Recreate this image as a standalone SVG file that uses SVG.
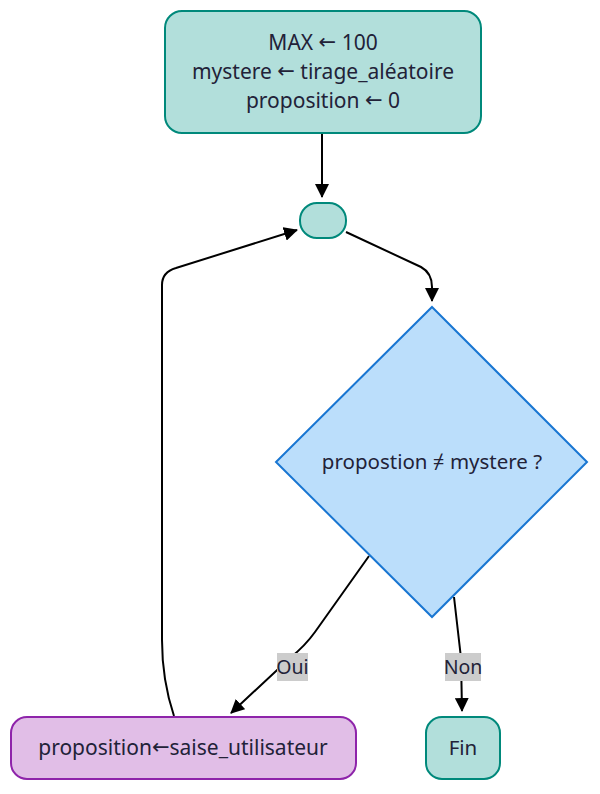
<svg xmlns="http://www.w3.org/2000/svg" width="600" height="794" viewBox="0 0 600 794">
<defs>
<marker id="arr" viewBox="0 0 14 14" refX="13" refY="7" markerWidth="14" markerHeight="14" markerUnits="userSpaceOnUse" orient="auto">
<path d="M0,0 L14,7 L0,14 Z" fill="#000"/>
</marker>
</defs>
<style>
.t{font-family:"Noto Sans","Open Sans",sans-serif;font-size:20.5px;fill:#222238;text-anchor:middle;dominant-baseline:central}
.w{font-size:21px}
.l{font-size:19.5px}
.a{font-family:"DejaVu Sans",sans-serif}
.teal{fill:#b2dfdb;stroke:#00897b;stroke-width:2}
.purple{fill:#e1bee7;stroke:#8e24aa;stroke-width:2}
.blue{fill:#bbdefb;stroke:#1976d2;stroke-width:2}
.e{fill:none;stroke:#000;stroke-width:2;marker-end:url(#arr)}
.lb{fill:#cccccc}
</style>
<rect width="600" height="794" fill="#fff"/>
<g id="connectors">
<path class="e" d="M322,133 L322,197"/>
<path class="e" d="M346,232 L421,267 Q432,273 432,287 L432,301"/>
<path class="e" d="M369,556 L315,632 Q305,646 290,658 L231,713"/>
<path class="e" d="M454,597 L461,658 L462,711"/>
<path class="e" d="M174,716 Q162,680 162,640 L162,285 Q162,272 176,268 L297,230"/>
<rect class="lb" x="277" y="653" width="31" height="28"/>
<text class="t l" x="292.5" y="666">Oui</text>
<rect class="lb" x="445" y="653" width="36" height="28"/>
<text class="t l" x="463" y="666">Non</text>
</g>
<g id="init">
<rect class="teal" x="165" y="11" width="316" height="122" rx="17"/>
<text class="t w" x="323" y="42">MAX <tspan class="a">←</tspan> 100</text>
<text class="t w" x="323" y="71">mystere <tspan class="a">←</tspan> tirage_aléatoire</text>
<text class="t w" x="323" y="100">proposition <tspan class="a">←</tspan> 0</text>
</g>
<g id="junction">
<rect class="teal" x="300" y="203" width="46" height="35" rx="17"/>
</g>
<g id="decision">
<polygon class="blue" points="432,307 587,462 432,617 276,462"/>
<text class="t" x="432" y="461">propostion ≠ mystere ?</text>
</g>
<g id="saisie">
<rect class="purple" x="11" y="717" width="345" height="62" rx="16"/>
<text class="t w" x="183" y="747">proposition<tspan class="a">←</tspan>saise_utilisateur</text>
</g>
<g id="fin">
<rect class="teal" x="426" y="717" width="74" height="62" rx="16"/>
<text class="t" x="463" y="747">Fin</text>
</g>
</svg>
